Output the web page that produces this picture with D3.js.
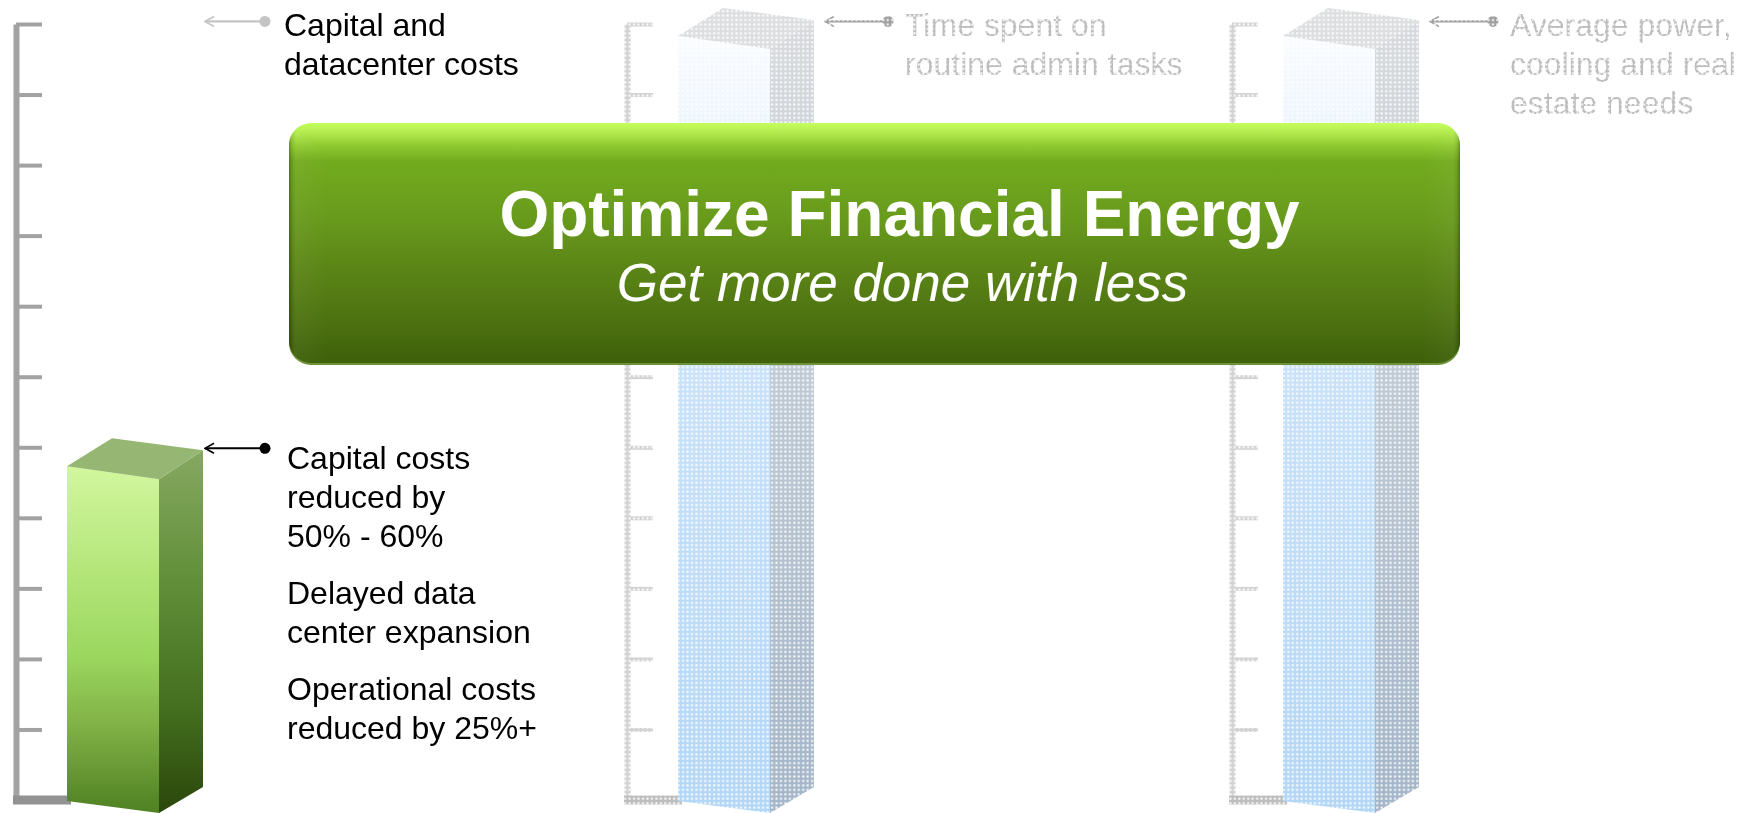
<!DOCTYPE html>
<html>
<head>
<meta charset="utf-8">
<script src="https://cdn.jsdelivr.net/npm/d3@7"></script>
<style>
  html, body { margin: 0; padding: 0; background: #fff; overflow: hidden; }
  text { font-family: "Liberation Sans", Arial, sans-serif; }
</style>
</head>
<body>
<div id="chart"></div>
<script>
// data
const panels = ["capital", "admin", "power"];
const barValues = [5, 11.1, 11.1];
const calloutValues = [11.05, 11.05, 11.05];
const axisTicks = [1, 2, 3, 4, 5, 6, 7, 8, 9, 10, 11];
const capitalLabel = ["Capital and", "datacenter costs"];
const adminLabel = ["Time spent on", "routine admin tasks"];
const powerLabel = ["Average power,", "cooling and real", "estate needs"];
const resultLabel = ["Capital costs", "reduced by", "50% - 60%", "Delayed data", "center expansion", "Operational costs", "reduced by 25%+"];
const resultGaps = [0, 0, 0, 18, 0, 18, 0];
const bannerTitle = "Optimize Financial Energy";
const bannerSubtitle = "Get more done with less";

const width = 1747, height = 813;

const svg = d3.select("#chart")
    .append("svg")
    .attr("width", width)
    .attr("height", height)
    .style("display", "block");

const defs = svg.append("defs");

function gradient(id, stops, horizontal) {
    const g = defs.append("linearGradient")
        .attr("id", id)
        .attr("x1", 0).attr("y1", 0)
        .attr("x2", horizontal ? 1 : 0).attr("y2", horizontal ? 0 : 1);
    stops.forEach(s => {
        g.append("stop")
            .attr("offset", s[0])
            .attr("stop-color", s[1])
            .attr("stop-opacity", s[2] === undefined ? 1 : s[2]);
    });
}

gradient("frontGreen", [[0, "#d2f79e"], [0.3, "#b4e67a"], [0.55, "#9bd75f"], [0.75, "#80b146"], [1, "#4f8022"]]);
gradient("sideGreen", [[0, "#86a861"], [0.35, "#62903a"], [0.7, "#44701f"], [1, "#2b470b"]]);
gradient("frontBlue", [[0, "#fafcff"], [0.2, "#e2effc"], [0.45, "#c8e1f9"], [1, "#b2d6f6"]]);
gradient("sideBlue", [[0, "#d8dadd"], [0.5, "#bcc8d4"], [1, "#a3b5c8"]]);
gradient("banner", [[0, "#c4ff5c"], [0.035, "#b6ee50"], [0.1, "#8cc72e"], [0.16, "#72ab1e"], [0.4, "#689a1c"], [0.62, "#5a8416"], [0.85, "#4b6f10"], [0.97, "#3f620b"], [1, "#3f620b"]]);
gradient("bevelLeft", [[0, "#000", 0.3], [0.07, "#000", 0.1], [0.2, "#fff", 0.04], [1, "#fff", 0]], true);
gradient("bevelRight", [[0, "#fff", 0], [0.8, "#fff", 0.04], [0.93, "#000", 0.08], [1, "#000", 0.3]], true);

// the faded panels are seen through a fine mesh
const pattern = defs.append("pattern")
    .attr("id", "meshTile")
    .attr("patternUnits", "userSpaceOnUse")
    .attr("width", 4.45)
    .attr("height", 4.45);
pattern.append("rect").attr("width", 4.45).attr("height", 4.45).attr("fill", "#fff");
pattern.append("rect").attr("x", 1.2).attr("y", 1.2).attr("width", 2).attr("height", 2).attr("fill", "#000");

defs.append("mask")
    .attr("id", "mesh")
    .attr("maskUnits", "userSpaceOnUse")
    .attr("x", 0).attr("y", 0)
    .attr("width", width).attr("height", height)
    .append("rect")
    .attr("width", width)
    .attr("height", height)
    .attr("fill", "url(#meshTile)");

const marker = defs.append("marker")
    .attr("id", "arrowOpen")
    .attr("viewBox", "0 0 12 12")
    .attr("refX", 11).attr("refY", 6)
    .attr("markerUnits", "userSpaceOnUse")
    .attr("markerWidth", 12).attr("markerHeight", 14)
    .attr("orient", "auto");
marker.append("path")
    .attr("d", "M2,1 L11,6 L2,11")
    .attr("fill", "none")
    .attr("stroke", "context-stroke")
    .attr("stroke-width", 1.6);

const y = d3.scaleLinear().domain([0, 11]).range([800, 24]);
const panelX = d3.scaleOrdinal().domain(panels).range([13, 624, 1229]);

// bar sizes in pixels
const barLeft = 54, barFront = 92, barSide = 44;
const polygon = d3.line();

function drawAxis(g, name, base) {
    const x0 = panelX(name);
    const axis = d3.axisRight(y)
        .tickValues(axisTicks)
        .tickSize(26)
        .tickSizeOuter(0)
        .tickFormat("");
    const a = g.append("g")
        .attr("transform", `translate(${x0 + 3},0)`)
        .call(axis);
    a.select(".domain")
        .attr("stroke", base)
        .attr("stroke-width", 6);
    a.selectAll(".tick line")
        .attr("stroke", base)
        .attr("stroke-width", 4);
    g.append("line")
        .attr("x1", x0)
        .attr("x2", x0 + barLeft + 4)
        .attr("y1", y(0))
        .attr("y2", y(0))
        .attr("stroke", d3.color(base).darker(0.3))
        .attr("stroke-width", 9);
}

function drawBar(g, name, value, front, side, topFill) {
    const l = panelX(name) + barLeft, r = l + barFront, e = r + barSide;
    const t = y(value), b = y(0);
    g.append("path")
        .attr("d", polygon([[l, t + 19], [r, t + 32], [r, b + 13], [l, b + 1]]) + "Z")
        .attr("fill", `url(#${front})`);
    g.append("path")
        .attr("d", polygon([[r, t + 32], [e, t + 3], [e, b - 13], [r, b + 13]]) + "Z")
        .attr("fill", `url(#${side})`);
    g.append("path")
        .attr("d", polygon([[l, t + 19], [l + 45, t - 9], [e, t + 3], [r, t + 32]]) + "Z")
        .attr("fill", topFill);
}

function drawCallout(g, name, value, color, from, to) {
    const x0 = panelX(name);
    g.append("line")
        .attr("x1", x0 + to)
        .attr("x2", x0 + from)
        .attr("y1", y(value) + 1)
        .attr("y2", y(value) + 1)
        .attr("stroke", color)
        .attr("stroke-width", 2.2)
        .attr("marker-end", "url(#arrowOpen)");
    g.append("circle")
        .attr("cx", x0 + to)
        .attr("cy", y(value) + 1)
        .attr("r", 5.5)
        .attr("fill", color);
}

function drawLines(g, x, firstBaseline, lines, color, gaps) {
    let yy = firstBaseline;
    lines.forEach((d, i) => {
        yy += (i ? 39 : 0) + (gaps ? gaps[i] : 0);
        g.append("text")
            .attr("x", x)
            .attr("y", yy)
            .attr("font-size", 32)
            .attr("fill", color)
            .text(d);
    });
}

// faded panels first, the banner sits over them
const ghost = svg.append("g").attr("mask", "url(#mesh)");
panels.slice(1).forEach(name => {
    const i = panels.indexOf(name);
    drawAxis(ghost, name, "#d2d2d2");
    drawBar(ghost, name, barValues[i], "frontBlue", "sideBlue", "#dcdee0");
    drawCallout(ghost, name, calloutValues[i], "#a0a0a0", 201, 264);
});
drawLines(ghost, 905, 36, adminLabel, "#bcbcbc");
drawLines(ghost, 1510, 36, powerLabel, "#bcbcbc");

// main panel
const main = svg.append("g");
drawAxis(main, "capital", "#a2a2a2");
drawBar(main, "capital", barValues[0], "frontGreen", "sideGreen", "#96b673");
drawCallout(main, "capital", calloutValues[0], "#c4c4c4", 192, 252);
drawCallout(main, "capital", barValues[0], "#000", 192, 252);
drawLines(main, 284, 36, capitalLabel, "#000");
drawLines(main, 287, 469, resultLabel, "#000", resultGaps);

// banner
const bx = 289, by = 123, bw = 1171, bh = 240, br = 22;
const banner = svg.append("g");
defs.append("clipPath")
    .attr("id", "bannerClip")
    .append("rect")
    .attr("x", bx).attr("y", by).attr("width", bw).attr("height", bh).attr("rx", br);
banner.append("rect")
    .attr("x", bx).attr("y", by + 2)
    .attr("width", bw).attr("height", bh)
    .attr("rx", br)
    .attr("fill", "#6e9238");
banner.append("rect")
    .attr("x", bx).attr("y", by)
    .attr("width", bw).attr("height", bh)
    .attr("rx", br)
    .attr("fill", "url(#banner)");
const bevels = banner.append("g").attr("clip-path", "url(#bannerClip)");
bevels.append("path")
    .attr("d", polygon([[bx, by + 8], [bx + 6, by + 8], [bx + 38, by + 34], [bx + 38, by + bh], [bx, by + bh]]) + "Z")
    .attr("fill", "url(#bevelLeft)");
bevels.append("path")
    .attr("d", polygon([[bx + bw, by + 8], [bx + bw - 6, by + 8], [bx + bw - 38, by + 34], [bx + bw - 38, by + bh], [bx + bw, by + bh]]) + "Z")
    .attr("fill", "url(#bevelRight)");
banner.append("text")
    .attr("x", bx + bw / 2 + 25)
    .attr("y", 236)
    .attr("text-anchor", "middle")
    .attr("font-size", 64)
    .attr("font-weight", "bold")
    .attr("fill", "#fff")
    .text(bannerTitle);
banner.append("text")
    .attr("x", bx + bw / 2 + 28)
    .attr("y", 301)
    .attr("text-anchor", "middle")
    .attr("font-size", 53)
    .attr("font-style", "italic")
    .attr("fill", "#fff")
    .text(bannerSubtitle);
</script>
</body>
</html>
